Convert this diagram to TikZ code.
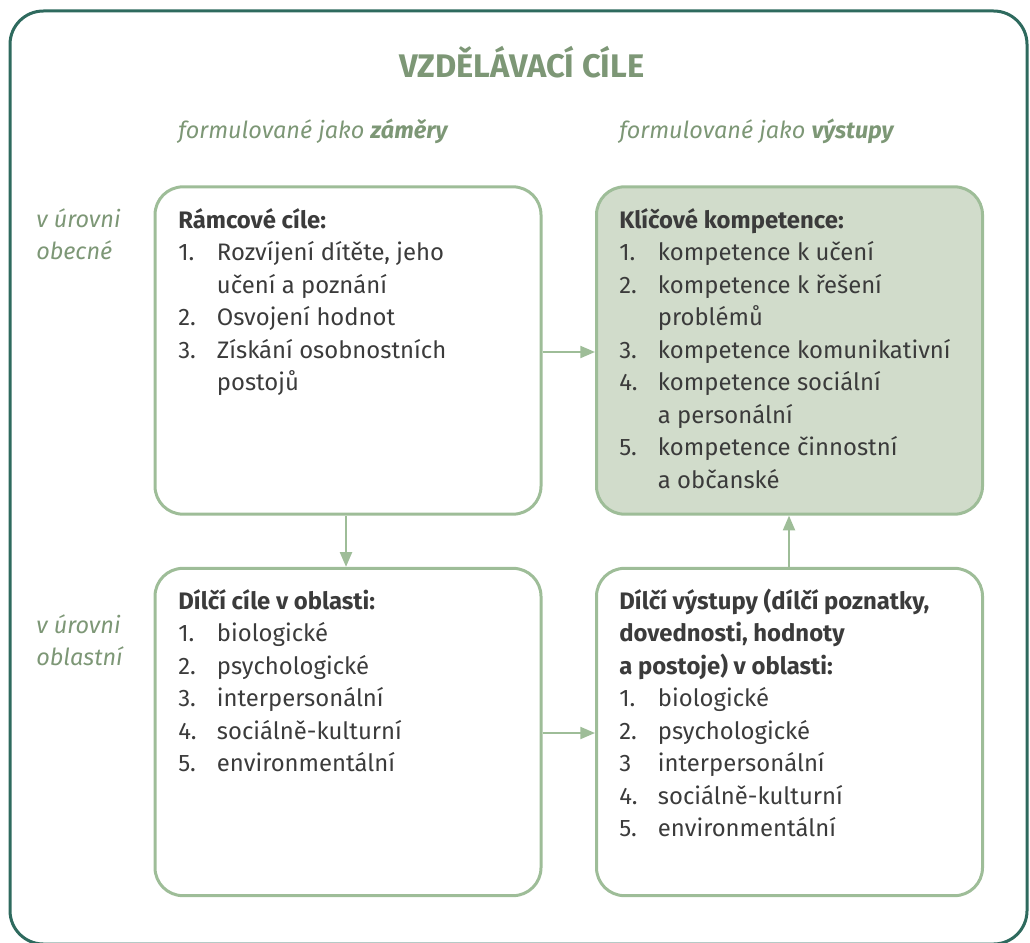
\documentclass[tikz,border=0pt]{standalone}
\usepackage{fontspec}
\setmainfont{Fira Sans}
\usetikzlibrary{arrows.meta}
\definecolor{frame}{HTML}{2E6A5E}
\definecolor{boxline}{HTML}{9EBD98}
\definecolor{boxfill}{HTML}{D1DCCB}
\definecolor{txt}{HTML}{3B3B3B}
\definecolor{head}{HTML}{7D9776}
\newcommand{\nm}[1]{\makebox[29pt][l]{#1}}
\newcommand{\ind}{\hspace*{29pt}}
\tikzset{
  box/.style={draw=boxline, line width=2.25pt, rounded corners=21pt, minimum width=289.5pt, minimum height=245.5pt, inner sep=0pt},
  arr/.style={draw=boxline, line width=1.5pt, -{Triangle[length=11pt,width=9pt]}},
  body/.style={anchor=base west, inner sep=0pt, text=txt, font=\fontsize{17.9}{24.4}\selectfont},
  lab/.style={anchor=base west, inner sep=0pt, text=head, font=\fontsize{17.6}{24.6}\selectfont\itshape},
}
\begin{document}
\begin{tikzpicture}[x=0.75pt,y=-0.75pt]
\useasboundingbox (0,0) rectangle (1030,942);
\begin{scope}
\clip (0,0) rectangle (1030,942);
\draw[frame, line width=2.25pt, rounded corners=25pt] (10,11) rectangle (1027,944);
\end{scope}
\node[anchor=base, inner sep=0pt, text=head, font=\fontsize{24.5}{28}\selectfont\bfseries] (title) at (522,77) {VZDĚLÁVACÍ CÍLE};
\node[lab] (h1) at (178,138) {formulované jako \textbf{záměry}};
\node[lab] (h2) at (619,138) {formulované jako \textbf{výstupy}};
\node[lab] (l1) at (36,227) {\parbox[t]{120pt}{v úrovni\\obecné}};
\node[lab] (l2) at (36,633) {\parbox[t]{120pt}{v úrovni\\oblastní}};
\node[box] (b1) at (348,350.5) {};
\node[box, fill=boxfill] (b2) at (789.5,350.5) {};
\node[box] (b3) at (348,732) {};
\node[box] (b4) at (789.5,732) {};
\node[body] (t1) at (178,228) {\parbox[t]{270pt}{\textbf{Rámcové cíle:}\\
\nm{1.}Rozvíjení dítěte, jeho\\
\ind učení a poznání\\
\nm{2.}Osvojení hodnot\\
\nm{3.}Získání osobnostních\\
\ind postojů}};
\node[body] (t2) at (619,228) {\parbox[t]{270pt}{\textbf{Klíčové kompetence:}\\
\nm{1.}kompetence k učení\\
\nm{2.}kompetence k řešení\\
\ind problémů\\
\nm{3.}kompetence komunikativní\\
\nm{4.}kompetence sociální\\
\ind a personální\\
\nm{5.}kompetence činnostní\\
\ind a občanské}};
\node[body] (t3) at (178,609) {\parbox[t]{270pt}{\textbf{Dílčí cíle v oblasti:}\\
\nm{1.}biologické\\
\nm{2.}psychologické\\
\nm{3.}interpersonální\\
\nm{4.}sociálně-kulturní\\
\nm{5.}environmentální}};
\node[body] (t4) at (619,609) {\parbox[t]{270pt}{\textbf{Dílčí výstupy (dílčí poznatky,}\\
\textbf{dovednosti, hodnoty}\\
\textbf{a postoje) v oblasti:}\\
\nm{1.}biologické\\
\nm{2.}psychologické\\
\nm{3}interpersonální\\
\nm{4.}sociálně-kulturní\\
\nm{5.}environmentální}};
\draw[arr] (b1.east |- 0,352) -- (b2.west |- 0,352);
\draw[arr] (b1.south -| 346,0) -- (b3.north -| 346,0);
\draw[arr] (b4.north -| 789,0) -- (b2.south -| 789,0);
\draw[arr] (b3.east |- 0,733) -- (b4.west |- 0,733);
\end{tikzpicture}
\end{document}
